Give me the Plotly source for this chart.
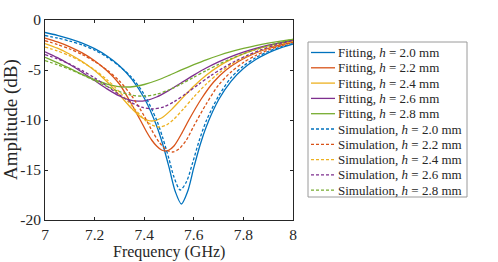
import plotly.graph_objects as go

# ---- data ----
f_fit20 = [7.00,7.05,7.10,7.15,7.20,7.25,7.30,7.35,7.40,7.45,7.475,7.50,7.525,7.55,7.575,7.60,7.625,7.65,7.70,7.75,7.80,7.85,7.90,7.95,8.00]
a_fit20 = [-1.25,-1.53,-1.88,-2.31,-2.87,-3.60,-4.57,-5.91,-7.80,-10.57,-12.45,-14.71,-17.13,-18.40,-17.16,-14.77,-12.53,-10.69,-7.98,-6.14,-4.86,-3.95,-3.28,-2.78,-2.40]

f_fit22 = [7.00,7.05,7.10,7.15,7.20,7.25,7.30,7.336,7.36,7.383,7.41,7.43,7.45,7.47,7.487,7.50,7.52,7.55,7.58,7.63,7.68,7.73,7.78,7.84,7.90,7.95,8.00]
a_fit22 = [-1.80,-2.19,-2.68,-3.29,-4.07,-5.07,-6.40,-7.85,-8.90,-9.95,-11.20,-12.00,-12.60,-13.00,-13.10,-13.00,-12.60,-11.40,-10.00,-7.90,-6.20,-5.00,-4.15,-3.40,-2.85,-2.50,-2.20]

f_fit24 = [7.00,7.05,7.10,7.15,7.20,7.25,7.30,7.35,7.39,7.43,7.47,7.51,7.55,7.60,7.65,7.70,7.75,7.80,7.85,7.90,7.95,8.00]
a_fit24 = [-2.35,-2.82,-3.42,-4.15,-5.06,-6.18,-7.49,-8.86,-9.75,-10.10,-9.80,-8.96,-7.91,-6.63,-5.53,-4.64,-3.94,-3.38,-2.94,-2.59,-2.32,-2.10]

f_fit26 = [7.00,7.05,7.10,7.15,7.20,7.25,7.30,7.34,7.375,7.41,7.45,7.50,7.55,7.60,7.65,7.70,7.75,7.80,7.85,7.90,7.95,8.00]
a_fit26 = [-3.18,-3.77,-4.45,-5.22,-6.05,-6.89,-7.60,-7.99,-8.12,-8.03,-7.70,-7.04,-6.27,-5.51,-4.80,-4.19,-3.66,-3.21,-2.84,-2.52,-2.26,-2.00]

f_fit28 = [7.00,7.05,7.10,7.15,7.20,7.25,7.29,7.323,7.36,7.40,7.45,7.50,7.55,7.60,7.65,7.70,7.75,7.80,7.85,7.90,7.95,8.00]
a_fit28 = [-3.73,-4.27,-4.84,-5.43,-5.97,-6.41,-6.63,-6.70,-6.65,-6.45,-6.05,-5.54,-4.99,-4.47,-3.98,-3.55,-3.17,-2.84,-2.56,-2.32,-2.11,-1.93]

f_sim20 = [7.00,7.05,7.10,7.15,7.20,7.25,7.30,7.35,7.40,7.45,7.475,7.50,7.52,7.545,7.57,7.595,7.62,7.65,7.70,7.75,7.80,7.85,7.90,7.95,8.00]
a_sim20 = [-1.55,-1.80,-2.11,-2.50,-3.02,-3.71,-4.63,-5.75,-7.45,-10.00,-11.80,-13.90,-15.70,-17.00,-16.20,-14.30,-12.20,-10.10,-7.60,-5.77,-4.60,-3.76,-3.15,-2.69,-2.35]

f_sim22 = [7.00,7.05,7.10,7.15,7.20,7.25,7.30,7.35,7.40,7.43,7.46,7.49,7.515,7.54,7.57,7.60,7.65,7.70,7.75,7.80,7.85,7.90,7.95,8.00]
a_sim22 = [-2.07,-2.45,-2.90,-3.45,-4.15,-5.00,-6.10,-7.60,-9.60,-11.00,-12.20,-13.00,-13.20,-12.90,-12.00,-10.60,-8.40,-6.50,-5.20,-4.25,-3.55,-3.00,-2.60,-2.25]

f_sim24 = [7.00,7.05,7.10,7.15,7.20,7.25,7.30,7.35,7.40,7.43,7.46,7.49,7.52,7.56,7.60,7.65,7.70,7.75,7.80,7.85,7.90,7.95,8.00]
a_sim24 = [-2.70,-3.09,-3.58,-4.21,-4.99,-5.97,-7.18,-8.57,-9.92,-10.49,-10.70,-10.49,-9.91,-8.84,-7.70,-6.41,-5.33,-4.46,-3.78,-3.23,-2.79,-2.43,-2.15]

f_sim26 = [7.00,7.05,7.10,7.15,7.20,7.25,7.30,7.35,7.39,7.435,7.48,7.52,7.57,7.62,7.67,7.72,7.77,7.82,7.87,7.93,8.00]
a_sim26 = [-3.45,-3.89,-4.42,-5.06,-5.79,-6.61,-7.48,-8.27,-8.72,-8.90,-8.67,-8.18,-7.34,-6.42,-5.54,-4.76,-4.07,-3.49,-2.99,-2.49,-2.05]

f_sim28 = [7.00,7.05,7.10,7.15,7.20,7.25,7.30,7.35,7.40,7.45,7.50,7.55,7.60,7.65,7.70,7.75,7.80,7.85,7.90,7.95,8.00]
a_sim28 = [-4.06,-4.47,-4.94,-5.48,-6.06,-6.64,-7.16,-7.52,-7.62,-7.43,-6.99,-6.39,-5.72,-5.06,-4.44,-3.88,-3.38,-2.95,-2.56,-2.23,-1.94]

heights = ["2.0", "2.2", "2.4", "2.6", "2.8"]
colors = ["#0072BD", "#D95319", "#EDB120", "#7E2F8E", "#77AC30"]
fit_f = [f_fit20, f_fit22, f_fit24, f_fit26, f_fit28]
fit_a = [a_fit20, a_fit22, a_fit24, a_fit26, a_fit28]
sim_f = [f_sim20, f_sim22, f_sim24, f_sim26, f_sim28]
sim_a = [a_sim20, a_sim22, a_sim24, a_sim26, a_sim28]

x_ticks = [7, 7.2, 7.4, 7.6, 7.8, 8]
x_ticktext = ["7", "7.2", "7.4", "7.6", "7.8", "8"]
y_ticks = [-20, -15, -10, -5, 0]
y_ticktext = ["-20", "-15", "-10", "-5", "0"]
x_title = "Frequency (GHz)"
y_title = "Amplitude (dB)"

FONT = "Liberation Serif, Times New Roman, serif"
TXT = "#262626"
W, H = 498, 262
ML, MR, MT, MB = 45, 205, 20, 42
PW, PH = W - ML - MR, H - MT - MB


def px_x(px):
    return (px - ML) / PW


def px_y(py):
    return (H - MB - py) / PH


fig = go.Figure()
entries = []
for h, c, fx, ay in zip(heights, colors, fit_f, fit_a):
    name = f"Fitting, <i>h</i> = {h} mm"
    fig.add_trace(go.Scatter(
        x=fx, y=ay, mode="lines", name=name, showlegend=False,
        line=dict(color=c, width=1.3, shape="spline", smoothing=0.8)))
    entries.append((name, c, "solid"))
for h, c, fx, ay in zip(heights, colors, sim_f, sim_a):
    name = f"Simulation, <i>h</i> = {h} mm"
    fig.add_trace(go.Scatter(
        x=fx, y=ay, mode="lines", name=name, showlegend=False,
        line=dict(color=c, width=1.3, dash="3px,2px", shape="spline", smoothing=0.8)))
    entries.append((name, c, "3px,2px"))

# legend box (drawn as layout shapes + text annotations)
shapes = [dict(type="rect", xref="paper", yref="paper",
               x0=px_x(308), x1=px_x(467), y0=px_y(197), y1=px_y(42),
               line=dict(color="#9a9a9a", width=1), fillcolor="white", layer="above")]
annotations = []
row0, step = 52.5, 15.3
for i, (name, c, dash) in enumerate(entries):
    yc = row0 + step * i
    shapes.append(dict(type="line", xref="paper", yref="paper",
                       x0=px_x(311), x1=px_x(335), y0=px_y(yc), y1=px_y(yc),
                       line=dict(color=c, width=1.3, dash=dash), layer="above"))
    annotations.append(dict(xref="paper", yref="paper", x=px_x(336), y=px_y(yc),
                            xanchor="left", yanchor="middle", showarrow=False,
                            text=name, font=dict(family=FONT, size=13, color=TXT)))

# axis titles
annotations.append(dict(xref="paper", yref="paper", x=0.5, y=px_y(252),
                        xanchor="center", yanchor="middle", showarrow=False,
                        text=x_title, font=dict(family=FONT, size=16, color=TXT)))
annotations.append(dict(xref="paper", yref="paper", x=px_x(11), y=0.5,
                        xanchor="center", yanchor="middle", showarrow=False, textangle=-90,
                        text=y_title, font=dict(family=FONT, size=19, color=TXT)))

axis_common = dict(showline=True, linecolor=TXT, linewidth=1, mirror="ticks",
                   ticks="inside", ticklen=3, tickcolor=TXT, showgrid=False,
                   zeroline=False, automargin=False,
                   tickfont=dict(family=FONT, size=15.5, color=TXT))

fig.update_layout(
    width=W, height=H,
    margin=dict(l=ML, r=MR, t=MT, b=MB, autoexpand=False),
    paper_bgcolor="white", plot_bgcolor="white",
    font=dict(family=FONT, color=TXT),
    xaxis=dict(range=[7, 8], tickvals=x_ticks, ticktext=x_ticktext,
               ticklabelstandoff=0, **axis_common),
    yaxis=dict(range=[-20, 0], tickvals=y_ticks, ticktext=y_ticktext,
               ticklabelstandoff=0, **axis_common),
    shapes=shapes,
    annotations=annotations,
    showlegend=False,
)

# remove the browser's default page margin so the figure starts at the window corner
fig.write_html("out.html", config={"displayModeBar": False},
               post_script="document.body.style.margin='0';document.body.style.padding='0';")
